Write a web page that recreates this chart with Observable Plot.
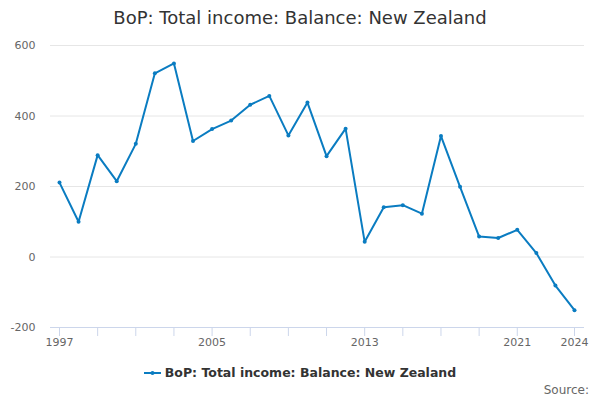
<!DOCTYPE html>
<html>
<head>
<meta charset="utf-8">
<script src="https://cdn.jsdelivr.net/npm/d3@7"></script>
<script src="https://cdn.jsdelivr.net/npm/@observablehq/plot@0.6"></script>
<style>
  html, body { margin: 0; padding: 0; background: #fff; }
  body { width: 600px; height: 400px; position: relative; font-family: "DejaVu Sans", sans-serif; overflow: hidden; }
  #title { position: absolute; left: 0; top: 0; width: 600px; height: 36px; text-align: center; font-size: 18px; line-height: 36px; color: #333; }
  #chart { position: absolute; left: 0; top: 36px; }
  #legend { position: absolute; left: 0; top: 364px; width: 600px; text-align: center; font-size: 12.5px; font-weight: bold; color: #333; line-height: 18px; }
  #legend svg { vertical-align: middle; margin-right: 4px; position: relative; top: -1px; }
  #source { position: absolute; right: 11px; top: 381px; font-size: 12px; color: #666; line-height: 18px; }
</style>
</head>
<body>
<div id="title">BoP: Total income: Balance: New Zealand</div>
<div id="chart"></div>
<div id="legend"><svg width="17" height="10"><line x1="0" y1="5" x2="17" y2="5" stroke="#0a7cc1" stroke-width="2"/><circle cx="8.5" cy="5" r="2" fill="#0a7cc1"/></svg>BoP: Total income: Balance: New Zealand</div>
<div id="source">Source:</div>
<script>
const years = [1997,1998,1999,2000,2001,2002,2003,2004,2005,2006,2007,2008,2009,2010,2011,2012,2013,2014,2015,2016,2017,2018,2019,2020,2021,2022,2023,2024];
const values = [211,100,289,215,321,521,549,329,363,387,432,457,345,438,286,364,43,141,147,123,343,199,58,54,77,11,-81,-151];
const xTicks = [1997,1999,2001,2003,2005,2007,2009,2011,2013,2015,2017,2019,2021,2024];
const xLabels = [1997,2005,2013,2021,2024];
const yTicks = [-200,0,200,400,600];
const color = "#0a7cc1";

const data = years.map((y, i) => ({year: y, value: values[i]}));

const chart = Plot.plot({
  width: 600,
  height: 328,
  marginLeft: 50,
  marginRight: 16,
  marginTop: 9,
  marginBottom: 37,
  insetLeft: 9,
  insetRight: 10,
  style: { fontFamily: "DejaVu Sans, sans-serif", fontSize: "11px", color: "#666", background: "transparent", overflow: "visible" },
  x: { type: "linear", domain: [1997, 2024] },
  y: { domain: [-200, 600] },
  marks: [
    Plot.gridY(yTicks.filter(d => d !== -200), { stroke: "#e6e6e6", strokeOpacity: 1 }),
    Plot.ruleY([-200], { stroke: "#ccd6eb" }),
    Plot.axisY(yTicks, { tickSize: 0, tickPadding: 15, label: null, fill: "#666", fontSize: 11, tickFormat: d => String(d) }),
    Plot.axisX(xTicks, { tickSize: 9, tickPadding: 2, label: null, stroke: "#ccd6eb", fill: "#666", fontSize: 11,
      tickFormat: d => xLabels.includes(d) ? String(d) : "" }),
    Plot.line(data, { x: "year", y: "value", stroke: color, strokeWidth: 2 }),
    Plot.dot(data, { x: "year", y: "value", r: 2, fill: color })
  ]
});
document.getElementById("chart").appendChild(chart);
</script>
</body>
</html>
